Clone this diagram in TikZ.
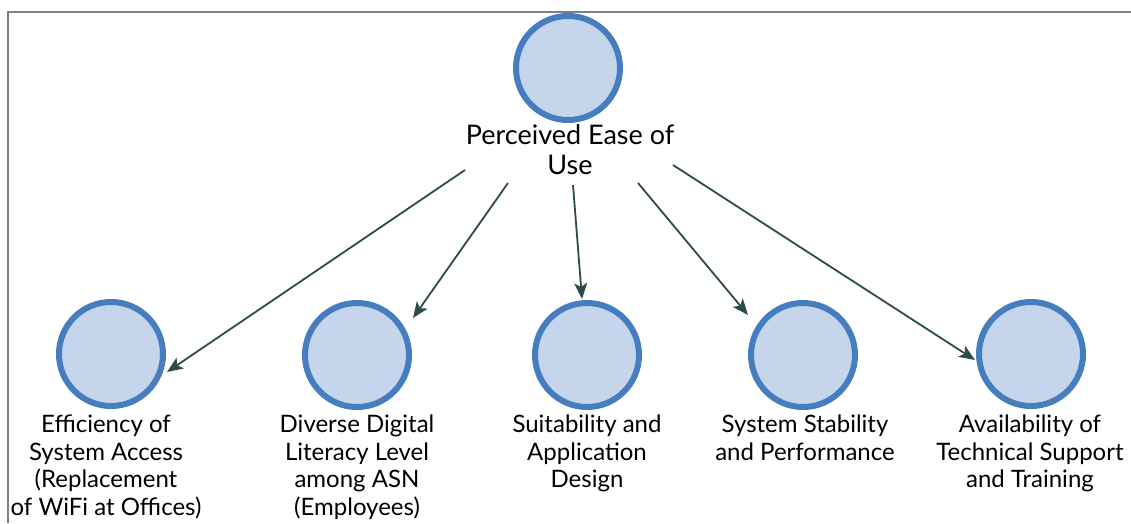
\documentclass[tikz,border=0pt]{standalone}
\usepackage{fontspec}
\setmainfont{Lato}
\usetikzlibrary{arrows.meta,calc}
\definecolor{cfill}{HTML}{C5D6EC}
\definecolor{cline}{HTML}{467DBE}
\definecolor{arrc}{HTML}{2D4B4B}
\definecolor{framec}{HTML}{808080}
\tikzset{
  bubble/.style={circle,draw=cline,fill=cfill,line width=6pt,minimum size=104pt,inner sep=0pt},
  lbl/.style={align=center,anchor=north,inner sep=0pt,font=\fontsize{24}{27.5}\selectfont,text=black},
  toplbl/.style={lbl,font=\fontsize{27}{30}\selectfont},
  arr/.style={draw=arrc,line width=1.8pt,-{Stealth[length=16pt,width=13pt,inset=4pt]}}
}
\begin{document}
\begin{tikzpicture}[x=1pt,y=-1pt]
\useasboundingbox (0,0) rectangle (1131,523);
\fill[white] (0,0) rectangle (1131,523);
\draw[framec,line width=1.5pt] (8,523) -- (8,12) -- (1131,12);
\node[bubble] (c0) at (568,68) {};
\node[toplbl] (t0) at (570,124) {Perceived Ease of\\Use};
\node[bubble] (c1) at (111,354) {};
\node[bubble] (c2) at (357,355) {};
\node[bubble] (c3) at (587,355) {};
\node[bubble] (c4) at (803,355) {};
\node[bubble] (c5) at (1031,354) {};
\node[lbl] (t1) at (106,415) {Efficiency of\\System Access\\(Replacement\\of WiFi at Offices)};
\node[lbl] (t2) at (357,415) {Diverse Digital\\Literacy Level\\among ASN\\(Employees)};
\node[lbl] (t3) at (587,415) {Suitability and\\Application\\Design};
\node[lbl] (t4) at (805,415) {System Stability\\and Performance};
\node[lbl] (t5) at (1030,415) {Availability of\\Technical Support\\and Training};
\coordinate (s1) at (465,170);
\coordinate (s2) at (508,183);
\coordinate (s3) at (573,185);
\coordinate (s4) at (638,183);
\coordinate (s5) at (673,165);
\draw[arr] (s1) -- ($(c1.center)+(56,18)$);
\draw[arr] (s2) -- ($(c2.center)+(56,-37)$);
\draw[arr] (s3) -- ($(c3.center)+(-5,-56)$);
\draw[arr] (s4) -- ($(c4.center)+(-55,-40)$);
\draw[arr] (s5) -- ($(c5.center)+(-56,6)$);
\end{tikzpicture}
\end{document}
